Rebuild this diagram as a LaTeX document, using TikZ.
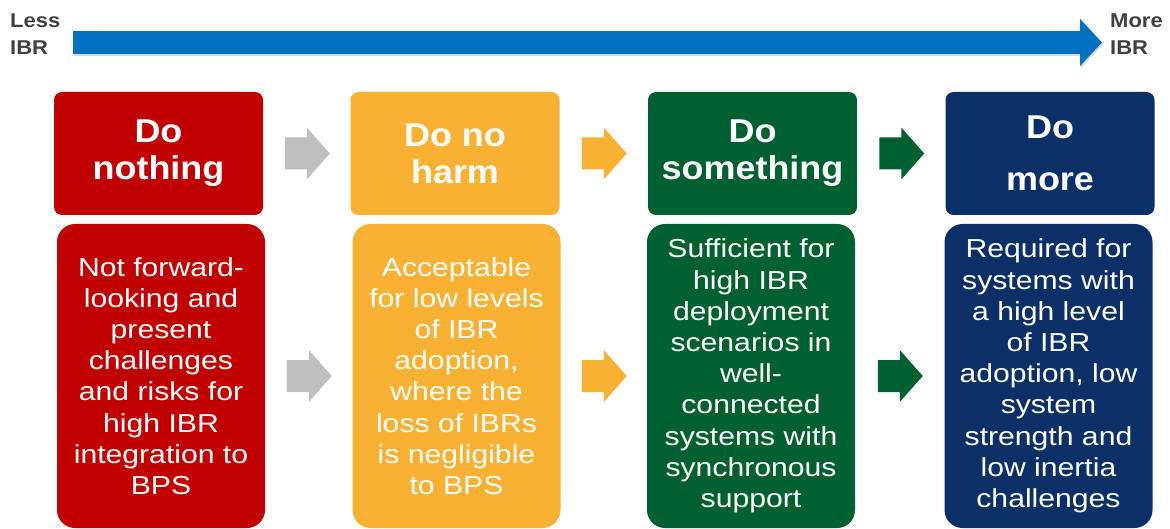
\documentclass[tikz,border=0pt]{standalone}
\usepackage{fontspec}
\setmainfont{Liberation Sans}
\newfontfamily\headfont[FakeStretch=1.09]{Liberation Sans}
\newfontfamily\bodyfont[FakeStretch=1.16]{Liberation Sans}
\newfontfamily\endsfont[FakeStretch=1.1]{Liberation Sans}
\usepackage{tikz}
\usetikzlibrary{calc}
\usetikzlibrary{arrows.meta}
\definecolor{doRed}{HTML}{C00000}
\definecolor{doOrange}{HTML}{F8B133}
\definecolor{doGreen}{HTML}{00602F}
\definecolor{doNavy}{HTML}{0B3068}
\definecolor{ibrBlue}{HTML}{0070C0}
\definecolor{arrGray}{HTML}{BFBFBF}
\definecolor{endGray}{HTML}{404040}
\tikzstyle{head} = [rectangle, rounded corners=8pt, minimum width=209pt, minimum height=123pt, inner sep=0pt, text=white, align=center, font=\headfont\bfseries\fontsize{33}{37}\selectfont]
\tikzstyle{body} = [rectangle, rounded corners=18pt, minimum width=208pt, minimum height=304pt, inner sep=0pt, text=white, align=center, font=\bodyfont\fontsize{26}{31.2}\selectfont]
\tikzstyle{ends} = [anchor=west, align=left, inner sep=0pt, text=endGray, font=\endsfont\bfseries\fontsize{20}{27}\selectfont]
\tikzstyle{ibr} = [line width=23pt, draw=ibrBlue, -{Triangle[length=22pt,width=46pt]}]
\tikzset{blockarr/.pic={\fill[pic actions] (-22,-16) -- (0,-16) -- (0,-26) -- (23,0) -- (0,26) -- (0,16) -- (-22,16) -- cycle;}}

\begin{document}
\begin{tikzpicture}[x=1pt,y=-1pt]
\useasboundingbox (0,0) rectangle (1170,529);
\node[ends] (less) at (10,34) {Less\\IBR};
\node[ends] (more) at (1110,34) {More\\IBR};
\draw[ibr, draw=black!15, transform canvas={shift={(1pt,-2pt)}}, shorten <=12pt, shorten >=8pt] ([yshift=-8.5pt]less.east) -- ([yshift=-8.5pt]more.west);
\draw[ibr, shorten <=12pt, shorten >=8pt] ([yshift=-8.5pt]less.east) -- ([yshift=-8.5pt]more.west);
\node[head, fill=doRed] (t1) at (158.5,153.5) {Do\\nothing};
\node[head, fill=doOrange] (t2) at (455,153.5) {Do no\\harm};
\node[head, fill=doGreen] (t3) at (752.5,153.5) {Do\\something};
\node[head, fill=doNavy] (t4) at (1050,153.5) {Do\\[15pt]more};
\node[body, fill=doRed] (b1) at (161,376) {Not forward-\\looking and\\present\\challenges\\and risks for\\high IBR\\integration to\\BPS};
\node[body, fill=doOrange] (b2) at (456.5,376) {Acceptable\\for low levels\\of IBR\\adoption,\\where the\\loss of IBRs\\is negligible\\to BPS};
\node[body, fill=doGreen] (b3) at (751,376) {Sufficient for\\high IBR\\deployment\\scenarios in\\well-\\connected\\systems with\\synchronous\\support};
\node[body, fill=doNavy] (b4) at (1048.5,376) {Required for\\systems with\\a high level\\of IBR\\adoption, low\\system\\strength and\\low inertia\\challenges};
\pic[fill=arrGray] at ($(t1.east)!.5!(t2.west)$) {blockarr};
\pic[fill=doOrange] at ($(t2.east)!.5!(t3.west)$) {blockarr};
\pic[fill=doGreen] at ($(t3.east)!.5!(t4.west)$) {blockarr};
\pic[fill=arrGray] at ($(b1.east)!.5!(b2.west)$) {blockarr};
\pic[fill=doOrange] at ($(b2.east)!.5!(b3.west)$) {blockarr};
\pic[fill=doGreen] at ($(b3.east)!.5!(b4.west)$) {blockarr};
\end{tikzpicture}
\end{document}
